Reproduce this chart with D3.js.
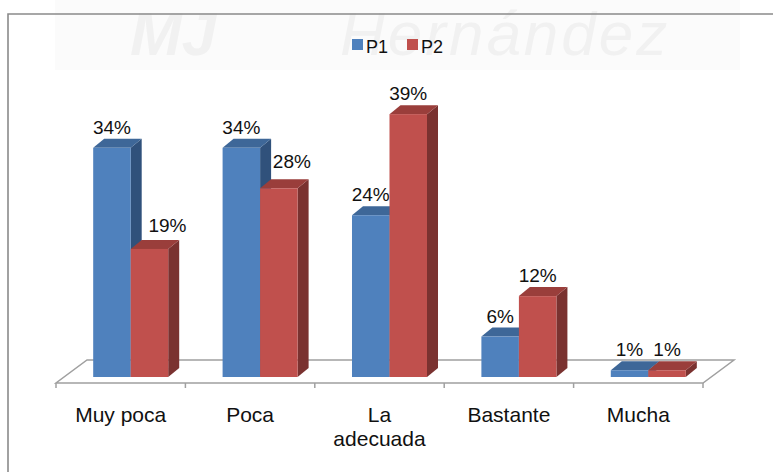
<!DOCTYPE html>
<html>
<head>
<meta charset="utf-8">
<script src="https://cdn.jsdelivr.net/npm/d3@7"></script>
<style>
    body { margin: 0; background: #fff; }
    svg { display: block; font-family: "Liberation Sans", Arial, sans-serif; }
</style>
</head>
<body>
<svg id="chart" width="773" height="472"></svg>
<script>
// data
var categories = ["Muy poca", "Poca", "La adecuada", "Bastante", "Mucha"];
var seriesNames = ["P1", "P2"];
var p1Values = [34, 34, 24, 6, 1];
var p2Values = [19, 28, 39, 12, 1];

var colors = {
    P1: { front: "#4f81bd", top: "#3e6798", side: "#30517b" },
    P2: { front: "#c0504d", top: "#9a3e3b", side: "#7a3230" }
};

var svg = d3.select("#chart");
var w = +svg.attr("width");

// geometry of the 3d floor
var floorFront = 383;
var floorDepth = { x: 31, y: -23 };
var plane = { x: 10, y: -6 };     // bar plane offset from floor front
var depth = { x: 11, y: -9 };     // bar depth

var xScale = d3.scaleBand()
    .domain(categories)
    .range([56, 703]);

var xSeries = d3.scaleBand()
    .domain(seriesNames)
    .range([0, xScale.bandwidth()])
    .paddingInner(0)
    .paddingOuter(0.725);

var yScale = d3.scaleLinear()
    .domain([0, 40])
    .range([floorFront + plane.y, floorFront + plane.y - 269.6]);

// faint watermark behind the chart
svg.append("rect")
    .attr("x", 55).attr("y", 0)
    .attr("width", 685).attr("height", 70)
    .attr("fill", "#fbfbfb");
var wm = svg.append("g")
    .attr("fill", "#f1f1f1")
    .attr("aria-hidden", "true");
wm.append("text")
    .attr("x", 340).attr("y", 55)
    .attr("font-size", 62)
    .attr("font-style", "italic")
    .attr("letter-spacing", 3)
    .text("Hernández");
wm.append("text")
    .attr("x", 130).attr("y", 55)
    .attr("font-size", 62)
    .attr("font-style", "italic")
    .attr("font-weight", "bold")
    .text("MJ");

// border
svg.append("path")
    .attr("d", "M8,480V14H" + (w + 10))
    .attr("fill", "none")
    .attr("stroke", "#8a8a8a")
    .attr("stroke-width", 1.6);

// floor
var x0 = xScale.range()[0], x1 = xScale.range()[1];
svg.append("path")
    .attr("d", "M" + x0 + "," + floorFront +
        "L" + x1 + "," + floorFront +
        "L" + (x1 + floorDepth.x) + "," + (floorFront + floorDepth.y) +
        "L" + (x0 + floorDepth.x) + "," + (floorFront + floorDepth.y) + "Z")
    .attr("fill", "#fff")
    .attr("stroke", "#a0a0a0")
    .attr("stroke-width", 1.5);

var ticks = categories.map(function (c) { return xScale(c); }).concat([x1]);
svg.selectAll("line.tick")
    .data(ticks)
    .enter()
    .append("line")
    .attr("class", "tick")
    .attr("x1", function (d) { return d; })
    .attr("x2", function (d) { return d; })
    .attr("y1", floorFront)
    .attr("y2", floorFront + 5)
    .attr("stroke", "#a0a0a0")
    .attr("stroke-width", 1.5);

// bars
var rows = [];
categories.forEach(function (c, i) {
    rows.push({ cat: c, s: "P1", v: p1Values[i] });
    rows.push({ cat: c, s: "P2", v: p2Values[i] });
});

var bars = svg.selectAll("g.bar")
    .data(rows)
    .enter()
    .append("g")
    .attr("class", "bar");

function bx(d) { return xScale(d.cat) + xSeries(d.s) + plane.x; }
var bw = xSeries.bandwidth();
var base = yScale(0);

bars.append("path")
    .attr("d", function (d) {
        var x = bx(d) + bw, t = yScale(d.v);
        return "M" + x + "," + base + "L" + x + "," + t +
            "L" + (x + depth.x) + "," + (t + depth.y) +
            "L" + (x + depth.x) + "," + (base + depth.y) + "Z";
    })
    .attr("fill", function (d) { return colors[d.s].side; });

bars.append("path")
    .attr("d", function (d) {
        var x = bx(d), t = yScale(d.v);
        return "M" + x + "," + t + "L" + (x + bw) + "," + t +
            "L" + (x + bw + depth.x) + "," + (t + depth.y) +
            "L" + (x + depth.x) + "," + (t + depth.y) + "Z";
    })
    .attr("fill", function (d) { return colors[d.s].top; });

bars.append("rect")
    .attr("x", bx)
    .attr("y", function (d) { return yScale(d.v); })
    .attr("width", bw)
    .attr("height", function (d) { return base - yScale(d.v); })
    .attr("fill", function (d) { return colors[d.s].front; });

// data labels (the two beside a taller P1 bar are pushed aside, as in Excel)
var labelNudge = {
    "Muy poca|P2": [18, -3],
    "Poca|P2": [13, -6]
};
function nudge(d, k) {
    var n = labelNudge[d.cat + "|" + d.s];
    return n ? n[k] : 0;
}
bars.append("text")
    .attr("x", function (d) { return bx(d) + bw / 2 + nudge(d, 0); })
    .attr("y", function (d) { return yScale(d.v) - 14 + nudge(d, 1); })
    .attr("text-anchor", "middle")
    .attr("font-size", "19px")
    .attr("fill", "#111")
    .text(function (d) { return d.v + "%"; });

// category labels
var catLabels = svg.selectAll("text.cat")
    .data(categories)
    .enter()
    .append("text")
    .attr("class", "cat")
    .attr("text-anchor", "middle")
    .attr("font-size", "21px")
    .attr("fill", "#111")
    .attr("x", function (d) { return xScale(d) + xScale.bandwidth() / 2; })
    .attr("y", 422)
    .text(function (d) { return d; });

catLabels.each(function (d) {
    var el = d3.select(this);
    if (this.getComputedTextLength() > xScale.bandwidth() * 0.8) {
        var words = d.split(" ");
        el.text(null);
        words.forEach(function (wd, i) {
            el.append("tspan")
                .attr("x", el.attr("x"))
                .attr("dy", i === 0 ? 0 : 24)
                .text(wd);
        });
    }
});

// legend
var legend = svg.selectAll("g.legend")
    .data(seriesNames)
    .enter()
    .append("g")
    .attr("class", "legend")
    .attr("transform", function (d, i) {
        return "translate(" + (352 + i * 55) + ",39)";
    });

legend.append("rect")
    .attr("width", 11)
    .attr("height", 11)
    .attr("fill", function (d) { return colors[d].front; });

legend.append("text")
    .attr("x", 14)
    .attr("y", 14)
    .attr("font-size", "18px")
    .attr("fill", "#111")
    .text(function (d) { return d; });
</script>
</body>
</html>
